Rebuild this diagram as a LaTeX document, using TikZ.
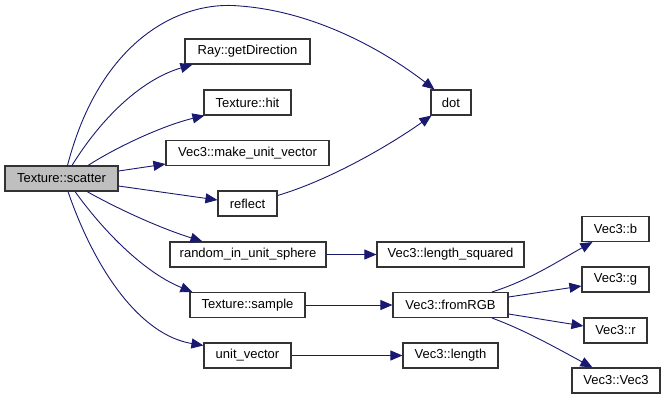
\documentclass[tikz,border=0pt]{standalone}
\usepackage{fontspec}
\setmainfont{Liberation Sans}
\usetikzlibrary{arrows.meta}
\definecolor{edgecol}{HTML}{191970}
\definecolor{boxline}{HTML}{333333}
\definecolor{grayfill}{HTML}{BFBFBF}
\begin{document}
\begin{tikzpicture}[x=1pt,y=-1pt,
  box/.style={draw=boxline,line width=1.1pt,fill=white,inner sep=0pt,minimum height=25pt,font=\fontsize{13}{14}\selectfont},
  conn/.style={draw=edgecol,line width=0.9pt,-{Triangle[length=12pt,width=10pt]}}]
\useasboundingbox (0,0) rectangle (665,400);
\node[box,fill=grayfill,minimum width=113pt] (scatter) at (61.5,178.5) {Texture::scatter};
\node[box,minimum width=125pt] (ray) at (247.5,51.5) {Ray::getDirection};
\node[box,minimum width=87pt] (hit) at (247.5,102.5) {Texture::hit};
\node[box,minimum width=163pt] (muv) at (247.5,153) {Vec3::make\_unit\_vector};
\node[box,minimum width=59pt] (reflect) at (247.5,203.5) {reflect};
\node[box,minimum width=156pt] (rius) at (248,254.5) {random\_in\_unit\_sphere};
\node[box,minimum width=115pt] (sample) at (247.5,305) {Texture::sample};
\node[box,minimum width=87pt] (uv) at (247.5,355.5) {unit\_vector};
\node[box,minimum width=40pt] (dot) at (451,102.5) {dot};
\node[box,minimum width=147pt] (lsq) at (450.5,254.5) {Vec3::length\_squared};
\node[box,minimum width=115pt] (rgb) at (450.5,305) {Vec3::fromRGB};
\node[box,minimum width=95pt] (len) at (450.5,355.5) {Vec3::length};
\node[box,minimum width=67pt] (vb) at (615.5,229) {Vec3::b};
\node[box,minimum width=67pt] (vg) at (615.5,279.5) {Vec3::g};
\node[box,minimum width=63pt] (vr) at (615.5,330.5) {Vec3::r};
\node[box,minimum width=88pt] (vv) at (616,380.5) {Vec3::Vec3};

\draw[conn] ([xshift=6pt]scatter.north) .. controls (100,40) and (180,0) .. (240,6) .. controls (320,12) and (390,55) .. ([xshift=4pt]dot.north west);
\draw[conn] ([xshift=10.5pt]scatter.north) .. controls (100,120) and (140,80) .. ([xshift=8pt]ray.south west);
\draw[conn] ([xshift=26.5pt]scatter.north) .. controls (120,145) and (165,125) .. ([xshift=1pt]hit.south west);
\draw[conn] ([yshift=7.5pt]scatter.east) -- ([yshift=2pt]muv.south west);
\draw[conn] ([yshift=-7.5pt]scatter.east) -- ([yshift=3.5pt]reflect.west);
\draw[conn] ([xshift=25.5pt]scatter.south) .. controls (120,210) and (160,228) .. ([xshift=33pt]rius.north west);
\draw[conn] ([xshift=13.5pt]scatter.south) .. controls (110,240) and (150,275) .. ([xshift=3pt]sample.north west);
\draw[conn] ([xshift=6.5pt]scatter.south) .. controls (95,270) and (140,335) .. ([yshift=-3pt]uv.north west);
\draw[conn] ([yshift=8pt]reflect.east) .. controls (330,180) and (390,145) .. ([xshift=1pt]dot.south west);
\draw[conn] (rius.east) -- (lsq.west);
\draw[conn] (sample.east) -- (rgb.west);
\draw[conn] (uv.east) -- (len.west);
\draw[conn] ([xshift=41.5pt]rgb.north) .. controls (530,280) and (560,260) .. ([xshift=11pt]vb.south west);
\draw[conn] ([yshift=8pt]rgb.east) -- ([yshift=-6.5pt]vg.west);
\draw[conn] ([yshift=-9pt]rgb.east) -- ([yshift=4.5pt]vr.west);
\draw[conn] ([xshift=41.5pt]rgb.south) .. controls (525,330) and (560,350) .. ([xshift=21pt]vv.north west);
\end{tikzpicture}
\end{document}
